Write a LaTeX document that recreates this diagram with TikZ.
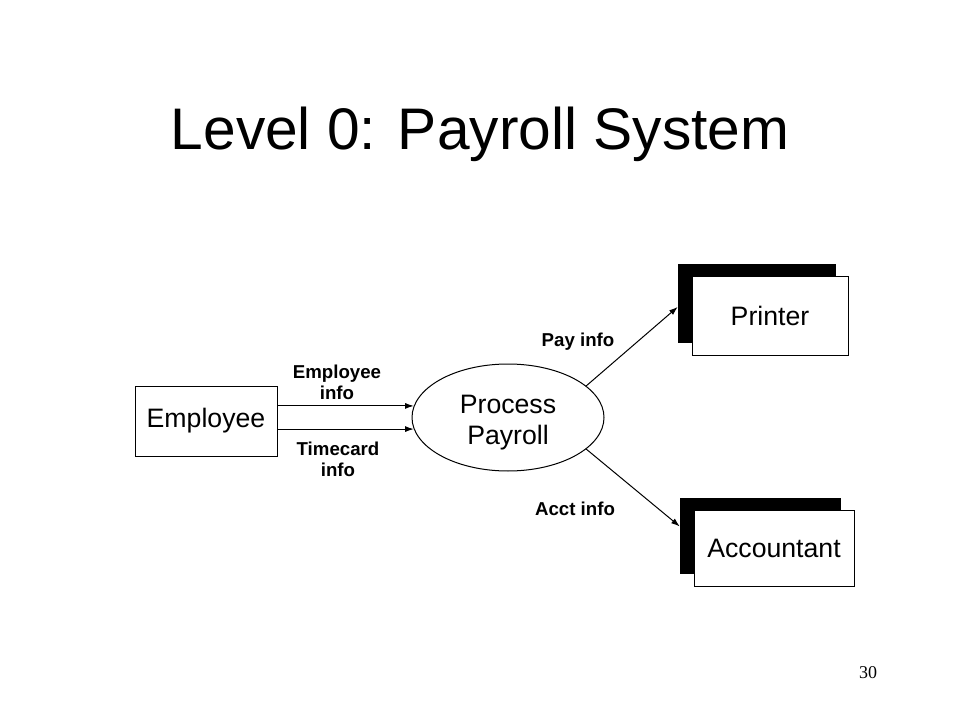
\documentclass[tikz,border=0pt]{standalone}
\usepackage{fontspec}
\setmainfont{Liberation Sans}
\newfontfamily\serifnum{Liberation Serif}
\usetikzlibrary{shapes.geometric,arrows.meta,calc}
\tikzset{
  box/.style={draw=black, line width=0.75pt, fill=white, inner sep=0pt, font=\fontsize{20}{23}\selectfont},
  shadowbox/.style={fill=black, draw=black, inner sep=0pt},
  proc/.style={draw=black, line width=0.75pt, ellipse, inner sep=0pt},
  proctext/.style={inner sep=0pt, align=center, font=\fontsize{20}{23.25}\selectfont},
  lbl/.style={inner sep=0pt, align=center, font=\fontsize{14}{15.75}\selectfont\bfseries},
  flow/.style={line width=0.75pt, -{Latex[length=6.5pt,width=4.5pt]}}
}
\begin{document}
\begin{tikzpicture}[x=0.75pt,y=-0.75pt]
\useasboundingbox (0,0) rectangle (960,720);
\fill[white] (0,0) rectangle (960,720);
% title
\node[anchor=base, inner sep=0pt, font=\fontsize{44}{50}\selectfont] (title) at (480,150) {Level 0: Payroll System};
% nodes
\node[box, minimum width=106.5pt, minimum height=52.5pt] (emp) at (206,421) {Employee};
\node[proc, minimum width=144pt, minimum height=80.25pt] (proc) at (508,417.5) {};
\node[proctext] (proclabel) at (508,423) {Process\\Payroll};
\node[shadowbox, minimum width=117.75pt, minimum height=58.5pt] (prback) at (756.5,303) {};
\node[box, minimum width=117pt, minimum height=58.5pt] (printer) at (770,316) {Printer};
\node[shadowbox, minimum width=120pt, minimum height=56.25pt] (accback) at (760,535.5) {};
\node[box, minimum width=120pt, minimum height=57pt] (acc) at (774,548) {Accountant};
% labels
\node[lbl] (l1) at (337,382) {Employee\\info};
\node[lbl] (l2) at (338,459.5) {Timecard\\info};
\node[lbl] (l3) at (578,342) {Pay info};
\node[lbl] (l4) at (575,509) {Acct info};
% flows
\draw[flow] (emp.east |- proc.173.6) -- (proc.173.6);
\draw[flow] (emp.east |- proc.187.6) -- (proc.187.6);
\draw[flow] (proc.22) -- ($(prback.north west)!0.55!(prback.south west)$);
\draw[flow] (proc.-22) -- ($(accback.north west)!0.38!(accback.south west)$);
% page number
\node[inner sep=0pt, font=\serifnum\fontsize{13.5}{15}\selectfont] (pg) at (868,673) {30};
\end{tikzpicture}
\end{document}
